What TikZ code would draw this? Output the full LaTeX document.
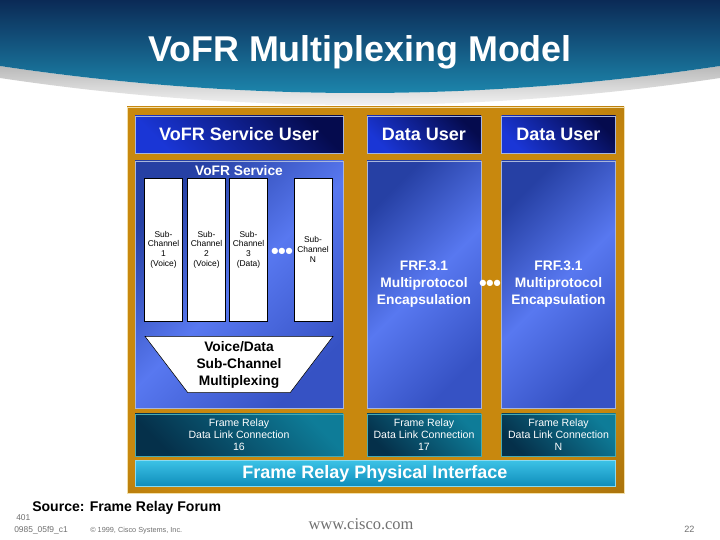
\documentclass[tikz,border=0pt]{standalone}
\usepackage{fontspec}
\setmainfont{Liberation Sans}
\newfontfamily\webfont{Liberation Serif}
\newfontfamily\dotfont{DejaVu Sans}
\usetikzlibrary{shapes.geometric, positioning, calc}
\definecolor{bannerdark}{HTML}{0B2A56}
\definecolor{bannerteal}{HTML}{1E8EB4}
\definecolor{frameorange}{HTML}{C8880E}
\definecolor{framebrown}{HTML}{4E3204}
\definecolor{framebrd}{HTML}{F2DFA8}
\definecolor{userblue}{HTML}{1A36D6}
\definecolor{usernavy}{HTML}{050B4E}
\definecolor{bluebrd}{HTML}{A8B6DC}
\definecolor{svcdark}{HTML}{2640A4}
\definecolor{svcbright}{HTML}{5878F0}
\definecolor{svcmid}{HTML}{3652C4}
\definecolor{dlcdark}{HTML}{05304A}
\definecolor{dlcteal}{HTML}{0E7C98}
\definecolor{dlcbrd}{HTML}{4AAAB0}
\definecolor{physlight}{HTML}{3CC2E6}
\definecolor{physdark}{HTML}{0E8CBA}
\definecolor{footgray}{HTML}{707070}
\pgfdeclareradialshading{framesh}{\pgfpoint{-6bp}{6bp}}{color(0bp)=(frameorange); color(32bp)=(frameorange); color(46bp)=(frameorange!60!framebrown); color(58bp)=(framebrown); color(100bp)=(framebrown)}

\begin{document}
\begin{tikzpicture}[
    panel/.style={rectangle, draw=framebrd, line width=0.6pt, shading=framesh},
    userbox/.style={rectangle, draw=bluebrd, line width=0.4pt, top color=usernavy, bottom color=userblue, shading angle=-45, text=white, font=\fontsize{12.8}{15}\selectfont\bfseries, minimum height=0.925cm},
    svcbox/.style={rectangle, draw=bluebrd, line width=0.4pt, top color=svcdark, bottom color=svcmid, middle color=svcbright, shading angle=45, minimum height=6.175cm},
    frftext/.style={text=white, align=center, font=\fontsize{9.8}{12.1}\selectfont\bfseries},
    subch/.style={rectangle, draw=black, fill=white, line width=0.4pt, minimum width=0.95cm, minimum height=3.575cm, inner sep=1pt, align=center, font=\fontsize{6}{6.9}\selectfont},
    ellip/.style={text=white, inner sep=0pt, font=\dotfont\fontsize{5.8}{7}\selectfont},
    mux/.style={trapezium, trapezium stretches=true, shape border rotate=180, trapezium left angle=55, trapezium right angle=55, draw=black, fill=white, line width=0.4pt, minimum width=4.7cm, minimum height=1.325cm, align=center, font=\fontsize{9.8}{12.1}\selectfont\bfseries},
    dlcbox/.style={rectangle, draw=dlcbrd, line width=0.4pt, top color=dlcteal, bottom color=dlcdark, shading angle=-45, minimum height=1.05cm, text=white, align=center, font=\fontsize{7.5}{8.5}\selectfont},
    physbox/.style={rectangle, draw=physlight!60!white, line width=0.4pt, top color=physlight, bottom color=physdark, minimum width=12cm, minimum height=0.575cm, text=white, font=\fontsize{12.8}{15}\selectfont\bfseries},
    foot/.style={text=footgray, inner sep=0pt, font=\fontsize{6}{7}\selectfont}
]
\fill[white] (0,0) rectangle (18,13.5);
\useasboundingbox (0,0) rectangle (18,13.5);

\path[top color=gray!55, bottom color=white] (0,11.85) .. controls (6,10.95) and (12,10.95) .. (18,11.85) -- (18,11.55) .. controls (12,10.65) and (6,10.65) .. (0,11.55) -- cycle;
\path[top color=bannerdark, bottom color=bannerteal] (0,13.5) -- (18,13.5) -- (18,11.85) .. controls (12,10.95) and (6,10.95) .. (0,11.85) -- cycle;
\node[text=white, anchor=base, font=\fontsize{25.5}{30}\selectfont\bfseries] (title) at (9,11.95) {VoFR Multiplexing Model};

\node[panel, minimum width=12.425cm, minimum height=9.65cm] (frame) at (9.3875,6.0) {};

\node[userbox, minimum width=5.2cm] (vuser) at (5.975,10.1375) {VoFR Service User};
\node[userbox, minimum width=2.85cm] (duser1) at (10.6,10.1375) {Data User};
\node[userbox, minimum width=2.85cm] (duserN) at (13.9625,10.1375) {Data User};

\node[svcbox, minimum width=5.2cm] (vsvc) at (5.975,6.3875) {};
\node[text=white, anchor=base, font=\fontsize{9.8}{12}\selectfont\bfseries] (vsvclabel) at (5.975,9.1) {VoFR Service};
\node[subch] (sub1) at (4.0875,7.2625) {Sub-\\Channel\\1\\(Voice)};
\node[subch] (sub2) at (5.1625,7.2625) {Sub-\\Channel\\2\\(Voice)};
\node[subch] (sub3) at (6.2125,7.2625) {Sub-\\Channel\\3\\(Data)};
\node[subch] (subN) at (7.825,7.2625) {Sub-\\Channel\\N};
\node[ellip] (subdots) at (7.05,7.225) {●●●};
\node[mux] (mux) at (5.975,4.3875) {Voice/Data\\Sub-Channel\\Multiplexing};

\node[svcbox, frftext, minimum width=2.85cm] (frf1) at (10.6,6.3875) {FRF.3.1\\Multiprotocol\\Encapsulation};
\node[svcbox, frftext, minimum width=2.85cm] (frfN) at (13.9625,6.3875) {FRF.3.1\\Multiprotocol\\Encapsulation};
\node[ellip] (frfdots) at (12.25,6.42) {●●●};

\node[dlcbox, minimum width=5.2cm] (dlc16) at (5.975,2.625) {Frame Relay\\Data Link Connection\\16};
\node[dlcbox, minimum width=2.85cm] (dlc17) at (10.6,2.625) {Frame Relay\\Data Link Connection\\17};
\node[dlcbox, minimum width=2.85cm] (dlcN) at (13.9625,2.625) {Frame Relay\\Data Link Connection\\N};
\node[physbox] (phys) at (9.375,1.6625) {Frame Relay Physical Interface};

\node[anchor=base west, inner sep=0pt, font=\fontsize{10}{12}\selectfont\bfseries] (source) at (0.8,0.7) {Source: Frame Relay Forum};
\node[foot, anchor=base west] (slideno) at (0.4,0.5) {401};
\node[foot, anchor=base west] (slidecode) at (0.35,0.2) {0985\_05f9\_c1};
\node[foot, anchor=base west, font=\fontsize{5.2}{6}\selectfont] (copyr) at (2.25,0.2) {© 1999, Cisco Systems, Inc.};
\node[anchor=base, text=footgray, inner sep=0pt, font=\webfont\fontsize{11.7}{13}\selectfont] (web) at (9.025,0.275) {www.cisco.com};
\node[foot, anchor=base west, font=\fontsize{6.5}{7}\selectfont] (pageno) at (17.1,0.2) {22};
\end{tikzpicture}
\end{document}
